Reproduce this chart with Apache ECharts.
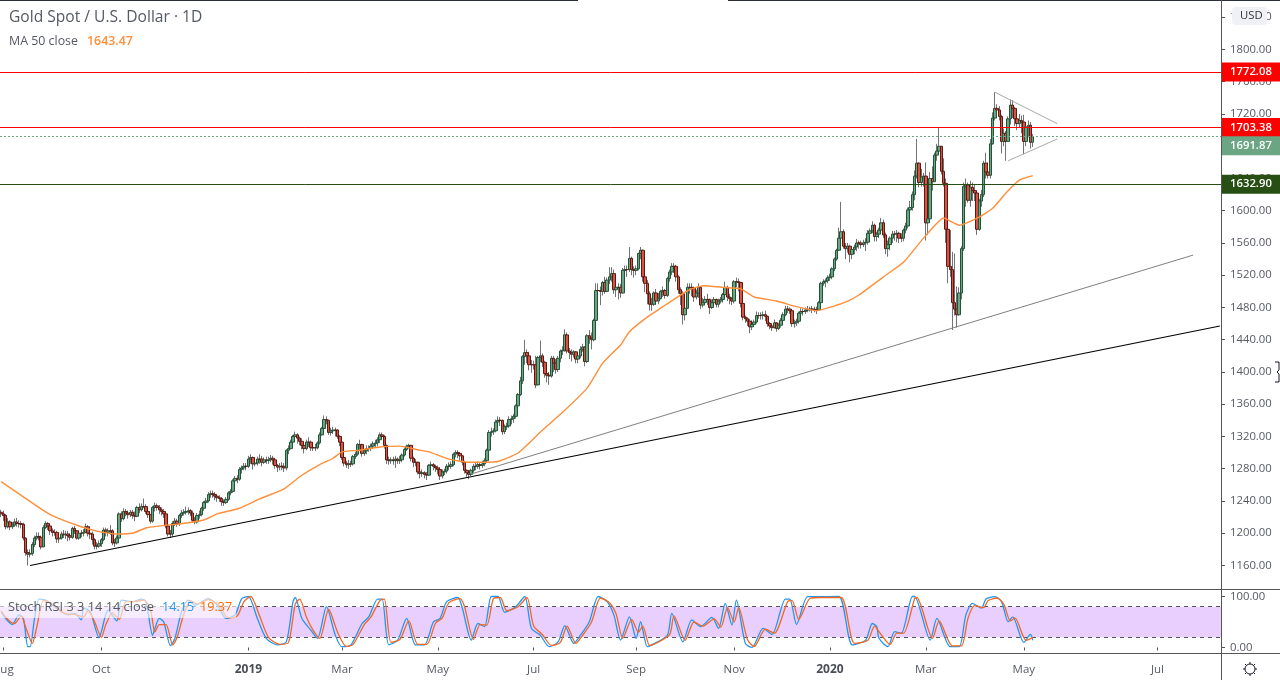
<!DOCTYPE html>
<html>
<head>
<meta charset="utf-8">
<title>Gold Spot / U.S. Dollar</title>
<script src="https://cdn.jsdelivr.net/npm/echarts@6/dist/echarts.min.js"></script>
<style>
html,body{margin:0;padding:0;background:#fff;}
#main{width:1280px;height:680px;}
</style>
</head>
<body>
<div id="main"></div>
<script>
// ten bars per row
var opens = [
1226,1224,1222,1208,1214,1208,1210,1214,1212,1212,
1211,1194,1176,1174,1175,1186,1194,1196,1195,1183,
1207,1212,1209,1203,1201,1201,1193,1194,1199,1198,
1199,1197,1195,1206,1203,1194,1200,1200,1201,1208,
1200,1199,1192,1184,1184,1187,1192,1204,1201,1203,
1203,1188,1188,1194,1224,1218,1227,1225,1223,1226,
1222,1221,1232,1229,1233,1233,1227,1223,1215,1232,
1234,1232,1229,1227,1224,1209,1199,1199,1212,1215,
1212,1222,1225,1226,1227,1228,1225,1216,1214,1222,
1223,1231,1238,1240,1248,1249,1248,1246,1244,1243,
1239,1238,1242,1250,1252,1265,1268,1267,1279,1281,
1283,1283,1292,1294,1286,1287,1292,1292,1288,1291,
1290,1291,1293,1291,1284,1282,1283,1283,1281,1303,
1305,1313,1320,1322,1318,1314,1309,1305,1313,1313,
1306,1306,1306,1312,1322,1330,1341,1340,1325,1327,
1328,1328,1320,1313,1294,1287,1285,1286,1286,1295,
1298,1310,1310,1299,1302,1305,1305,1308,1311,1312,
1316,1322,1320,1309,1291,1290,1291,1290,1292,1290,
1291,1297,1304,1308,1309,1293,1288,1288,1276,1274,
1275,1273,1272,1284,1285,1283,1281,1279,1271,1276,
1277,1283,1283,1285,1298,1300,1299,1296,1288,1278,
1275,1273,1278,1283,1283,1285,1284,1286,1290,1303,
1325,1326,1327,1338,1340,1340,1326,1332,1333,1341,
1342,1345,1358,1372,1389,1419,1424,1420,1409,1409,
1409,1384,1418,1420,1412,1398,1396,1395,1417,1411,
1403,1417,1426,1427,1446,1426,1424,1422,1425,1416,
1420,1428,1431,1413,1445,1442,1440,1464,1501,1501,
1500,1511,1500,1514,1518,1522,1502,1505,1505,1498,
1526,1527,1527,1541,1527,1526,1528,1547,1551,1518,
1510,1497,1484,1484,1498,1488,1491,1500,1501,1495,
1516,1524,1531,1531,1518,1502,1497,1471,1479,1505,
1505,1504,1493,1498,1505,1483,1486,1490,1490,1480,
1486,1490,1484,1488,1490,1496,1505,1493,1491,1488,
1512,1512,1511,1485,1468,1466,1463,1456,1459,1462,
1470,1470,1470,1471,1469,1460,1457,1455,1461,1454,
1458,1464,1471,1478,1478,1476,1460,1461,1463,1473,
1475,1475,1477,1477,1478,1478,1477,1477,1486,1510,
1512,1513,1517,1518,1528,1540,1551,1566,1574,1556,
1553,1556,1546,1552,1555,1560,1560,1558,1560,1561,
1572,1575,1582,1568,1571,1576,1585,1570,1553,1558,
1566,1571,1571,1572,1566,1566,1576,1581,1601,1604,
1620,1643,1659,1635,1642,1643,1585,1590,1640,1636,
1669,1674,1680,1649,1634,1577,1531,1527,1486,1478,
1471,1498,1553,1630,1632,1613,1629,1625,1622,1577,
1612,1620,1659,1648,1644,1683,1715,1727,1725,1717,
1686,1696,1686,1714,1731,1727,1714,1708,1712,1710,
1686,1704,1706,1685];
var closes = [
1224,1222,1208,1214,1208,1210,1214,1212,1212,1211,
1194,1176,1174,1175,1186,1194,1196,1195,1183,1207,
1212,1209,1203,1201,1201,1193,1194,1199,1198,1199,
1197,1195,1206,1203,1194,1200,1200,1201,1208,1200,
1199,1192,1184,1184,1187,1192,1204,1201,1203,1203,
1188,1188,1194,1224,1218,1227,1225,1223,1226,1222,
1221,1232,1229,1233,1233,1227,1223,1215,1232,1234,
1232,1229,1227,1224,1209,1199,1199,1212,1215,1212,
1222,1225,1226,1227,1228,1225,1216,1214,1222,1223,
1231,1238,1240,1248,1249,1248,1246,1244,1243,1239,
1238,1242,1250,1252,1265,1268,1267,1279,1281,1283,
1283,1292,1294,1286,1287,1292,1292,1288,1291,1290,
1291,1293,1291,1284,1282,1283,1283,1281,1303,1305,
1313,1320,1322,1318,1314,1309,1305,1313,1313,1306,
1306,1306,1312,1322,1330,1341,1340,1325,1327,1328,
1328,1320,1313,1294,1287,1285,1286,1286,1295,1298,
1310,1310,1299,1302,1305,1305,1308,1311,1312,1316,
1322,1320,1309,1291,1290,1291,1290,1292,1290,1291,
1297,1304,1308,1309,1293,1288,1288,1276,1274,1275,
1273,1272,1284,1285,1283,1281,1279,1271,1276,1277,
1283,1283,1285,1298,1300,1299,1296,1288,1278,1275,
1273,1278,1283,1283,1285,1284,1286,1290,1303,1325,
1326,1327,1338,1340,1340,1326,1332,1333,1341,1342,
1345,1358,1372,1389,1419,1424,1420,1409,1409,1409,
1384,1418,1420,1412,1398,1396,1395,1417,1411,1403,
1417,1426,1427,1446,1426,1424,1422,1425,1416,1420,
1428,1431,1413,1445,1442,1440,1464,1501,1501,1500,
1511,1500,1514,1518,1522,1502,1505,1505,1498,1526,
1527,1527,1541,1527,1526,1528,1547,1551,1518,1510,
1497,1484,1484,1498,1488,1491,1500,1501,1495,1516,
1524,1531,1531,1518,1502,1497,1471,1479,1505,1505,
1504,1493,1498,1505,1483,1486,1490,1490,1480,1486,
1490,1484,1488,1490,1496,1505,1493,1491,1488,1512,
1512,1511,1485,1468,1466,1463,1456,1459,1462,1470,
1470,1470,1471,1469,1460,1457,1455,1461,1454,1458,
1464,1471,1478,1478,1476,1460,1461,1463,1473,1475,
1475,1477,1477,1478,1478,1477,1477,1486,1510,1512,
1513,1517,1518,1528,1540,1551,1566,1574,1556,1553,
1556,1546,1552,1555,1560,1560,1558,1560,1561,1572,
1575,1582,1568,1571,1576,1585,1570,1553,1558,1566,
1571,1571,1572,1566,1566,1576,1581,1601,1604,1620,
1643,1659,1635,1642,1643,1585,1590,1640,1636,1669,
1674,1680,1649,1634,1577,1531,1527,1486,1478,1471,
1498,1553,1630,1632,1613,1629,1625,1622,1577,1612,
1620,1659,1648,1644,1683,1715,1727,1725,1717,1686,
1696,1686,1714,1731,1727,1714,1708,1712,1710,1686,
1704,1706,1685,1691.87];
var lows = [
1220,1215,1205,1206,1204,1205,1208,1208,1207,1206,
1191,1172,1160,1170,1172,1183,1191,1191,1180,1183,
1205,1204,1198,1196,1197,1188,1188,1192,1194,1193,
1190,1191,1193,1199,1192,1192,1195,1196,1200,1196,
1193,1186,1180,1180,1182,1183,1190,1196,1196,1198,
1185,1183,1186,1192,1214,1216,1221,1218,1220,1218,
1215,1220,1225,1227,1231,1224,1219,1212,1213,1227,
1228,1224,1222,1219,1206,1196,1194,1196,1209,1208,
1209,1219,1222,1223,1223,1221,1213,1211,1212,1218,
1221,1228,1235,1238,1244,1244,1241,1239,1239,1234,
1234,1236,1240,1247,1250,1262,1262,1265,1274,1278,
1278,1281,1286,1279,1283,1284,1286,1283,1286,1286,
1286,1288,1285,1280,1276,1278,1278,1276,1278,1298,
1304,1311,1316,1311,1309,1304,1299,1303,1307,1302,
1302,1302,1304,1310,1321,1329,1335,1322,1321,1323,
1320,1317,1308,1291,1283,1281,1280,1282,1284,1292,
1296,1303,1295,1296,1298,1301,1302,1305,1307,1308,
1312,1316,1305,1286,1285,1286,1285,1281,1286,1286,
1288,1295,1302,1305,1289,1282,1283,1273,1268,1270,
1268,1266,1271,1280,1278,1276,1273,1266,1268,1272,
1274,1278,1280,1283,1294,1293,1290,1284,1274,1270,
1267,1271,1275,1278,1280,1279,1281,1283,1287,1302,
1320,1322,1325,1333,1333,1322,1323,1328,1331,1335,
1337,1342,1355,1370,1385,1409,1411,1402,1399,1403,
1380,1384,1412,1406,1393,1387,1384,1393,1400,1398,
1400,1412,1421,1425,1423,1416,1413,1418,1411,1411,
1417,1425,1407,1411,1435,1428,1438,1463,1490,1483,
1495,1497,1499,1509,1512,1497,1493,1490,1492,1497,
1520,1518,1524,1520,1517,1520,1526,1540,1512,1499,
1484,1476,1476,1482,1483,1484,1490,1493,1491,1493,
1512,1520,1523,1512,1497,1483,1459,1464,1478,1497,
1494,1487,1490,1492,1478,1480,1483,1483,1472,1478,
1483,1480,1480,1485,1486,1493,1488,1484,1483,1485,
1505,1500,1480,1464,1461,1457,1448,1452,1456,1460,
1466,1465,1465,1463,1456,1453,1451,1454,1450,1452,
1455,1462,1469,1473,1472,1456,1455,1457,1460,1470,
1470,1472,1474,1475,1473,1474,1472,1476,1484,1507,
1505,1510,1513,1515,1525,1538,1550,1560,1553,1540,
1548,1536,1540,1546,1550,1553,1553,1555,1550,1558,
1565,1572,1562,1562,1566,1572,1566,1546,1543,1551,
1560,1563,1561,1560,1561,1562,1572,1578,1595,1600,
1613,1640,1629,1630,1630,1563,1570,1585,1625,1636,
1662,1670,1645,1630,1560,1510,1518,1452,1470,1455,
1470,1490,1550,1605,1610,1605,1612,1612,1570,1575,
1605,1617,1640,1640,1640,1682,1712,1715,1712,1671,
1680,1662,1688,1707,1715,1705,1700,1703,1696,1670,
1680,1691,1677,1679];
var highs = [
1229,1228,1224,1219,1216,1214,1218,1219,1216,1215,
1213,1195,1180,1180,1189,1197,1201,1201,1197,1210,
1215,1214,1211,1206,1205,1203,1197,1202,1204,1203,
1203,1200,1208,1209,1204,1203,1204,1205,1212,1210,
1204,1202,1194,1189,1191,1194,1207,1207,1206,1210,
1205,1193,1197,1226,1227,1231,1230,1228,1229,1229,
1227,1234,1237,1237,1243,1236,1230,1224,1234,1238,
1237,1235,1232,1230,1226,1212,1204,1215,1219,1218,
1224,1229,1230,1233,1232,1230,1228,1220,1225,1228,
1233,1240,1244,1251,1253,1253,1251,1248,1247,1245,
1242,1245,1252,1255,1267,1271,1272,1282,1284,1287,
1287,1296,1298,1295,1292,1295,1298,1296,1294,1295,
1295,1297,1296,1292,1286,1287,1288,1287,1304,1309,
1316,1322,1326,1324,1320,1318,1310,1316,1319,1315,
1311,1311,1314,1325,1332,1346,1345,1341,1331,1332,
1331,1329,1322,1314,1297,1290,1291,1290,1297,1301,
1312,1316,1311,1304,1309,1309,1311,1314,1316,1319,
1325,1325,1322,1310,1295,1294,1295,1296,1294,1296,
1299,1306,1310,1311,1309,1295,1292,1289,1279,1279,
1277,1276,1286,1289,1287,1285,1284,1282,1279,1280,
1286,1288,1289,1300,1303,1303,1300,1297,1290,1279,
1277,1280,1286,1288,1289,1288,1290,1293,1305,1328,
1331,1330,1341,1345,1344,1341,1335,1337,1345,1346,
1348,1360,1374,1394,1421,1440,1428,1425,1415,1414,
1420,1420,1439,1423,1414,1402,1400,1420,1420,1416,
1420,1428,1432,1453,1449,1430,1428,1427,1426,1423,
1432,1435,1432,1447,1452,1449,1466,1510,1510,1506,
1513,1518,1517,1530,1530,1527,1510,1510,1509,1529,
1532,1532,1555,1543,1531,1532,1548,1555,1552,1522,
1514,1500,1492,1500,1503,1498,1502,1506,1503,1518,
1527,1535,1535,1533,1520,1505,1500,1490,1510,1510,
1510,1506,1502,1510,1506,1492,1494,1497,1491,1490,
1493,1491,1491,1493,1498,1512,1507,1497,1493,1514,
1517,1516,1512,1487,1470,1468,1466,1464,1465,1475,
1474,1474,1475,1476,1470,1462,1459,1465,1462,1461,
1467,1474,1482,1482,1480,1478,1465,1466,1475,1479,
1479,1480,1482,1481,1482,1481,1481,1488,1512,1515,
1516,1520,1522,1530,1542,1553,1579,1611,1577,1560,
1560,1558,1556,1558,1565,1563,1563,1564,1566,1576,
1578,1587,1584,1574,1579,1591,1589,1573,1563,1568,
1575,1575,1576,1574,1572,1578,1585,1604,1612,1624,
1650,1689,1660,1652,1647,1660,1602,1648,1655,1672,
1683,1703,1680,1665,1640,1596,1576,1549,1547,1506,
1505,1556,1635,1640,1635,1637,1635,1633,1625,1615,
1626,1662,1672,1660,1689,1722,1747,1732,1730,1719,
1702,1699,1717,1738,1737,1729,1721,1720,1718,1719,
1709,1712,1710,1695];

var maIndex = [0,9,18,24,36,44,52,59,65,74,80,91,97,107,116,127,134,143,149,153,161,170,179,188,192,201,210,216,223,232,243,252,263,270,278,282,290,297,303,309,315,324,332,338,348,357,366,373,380,385,396,405,414,423,430,439,445,451,457,463];
var maValues = [1264,1247,1230,1220.5,1208,1202,1199,1200,1206.5,1210,1211.5,1216.4,1224,1231,1242.5,1255,1270,1285,1293,1301,1303,1307,1308,1303,1301,1292,1288,1288,1289,1299.5,1328,1350,1380,1411,1433.5,1450,1468,1481,1492,1502,1507,1505,1503,1493,1488,1481,1476,1481,1488,1495.5,1518,1536,1566,1591,1582,1592,1603,1622,1638,1643.47];

var stochKIndex = [0,2,5,8,10,12,13,15,17,20,23,27,30,33,36,37,40,44,45,48,52,54,59,63,65,68,69,71,73,76,78,81,84,87,93,97,101,105,108,111,115,119,124,128,131,132,135,139,142,146,150,153,157,162,165,169,171,174,178,182,186,190,194,197,200,205,207,211,214,217,220,223,226,231,235,238,242,246,250,253,257,260,264,268,272,275,278,282,285,287,290,292,299,301,306,310,314,319,322,325,328,330,334,337,342,346,352,354,357,362,367,376,382,388,391,393,394,398,401,404,409,410,417,420,426,430,433,436,440,442,446,449,452,454,459,462,463];
var stochK = [70,57,45,64,57,1.5,1.5,57,95,93,83,70,64,67,54,77,70,19,31,73,52,93,90,95,90,24,37,57,50,3.5,18,70,93,83,96,83,57,64,96,100,57,18,5,11,90,98,57,34,18,80,24,1.5,5,47,60,95,95,5,14.5,57,5,5,50,57,90,98,77,14.5,47,41,100,100,69,80,100,37.5,24,1.5,11,43,8,24,50.5,100,90,64,14.5,60,18,50.5,1.5,5,24,67,11,54,41,59,37.5,86.5,44,93,8,0.2,37.5,25.7,95,95,45,99.6,99.6,100,5,14.5,47,41,18,1.5,31,27.7,100,100,14.5,57,1.5,1.5,64,86.5,77,95,99.6,90,50.5,60,10,25.7,14.15];
var stochDIndex = [0,3,6,9,11,14,16,19,22,25,29,33,37,39,42,45,47,50,53,56,60,64,67,69,71,74,77,79,82,85,88,93,98,102,106,109,112,116,120,125,129,132,134,137,140,143,147,151,155,158,163,166,170,172,175,179,183,187,191,195,198,201,206,208,212,215,218,221,224,227,232,236,239,243,247,251,254,258,261,265,269,273,276,279,283,286,288,291,293,300,302,307,311,315,320,323,326,329,331,335,338,343,347,353,355,358,363,368,377,383,389,392,395,399,402,405,410,411,418,421,427,431,434,437,441,443,447,450,453,455,460,463];
var stochD = [72,55,47,62,40,8,40,92,88,78,66,65,60,72,50,20,45,68,55,90,90,93,75,30,45,45,5,20,65,92,85,94,82,58,62,90,100,62,20,6,10,85,95,60,34,18,75,30,2,6,45,60,92,95,10,16,52,6,6,48,58,88,96,80,16,45,44,96,98,72,80,98,42,25,4,10,42,8,24,50,97,88,66,18,55,30,42,4,6,25,62,14,50,42,56,40,78,50,78,15,2,36,28,90,92,55,96,98,98,8,14,42,25,6,28,28,96,98,18,52,3,3,58,82,78,92,97,85,52,58,14,19.37];

var trendLower = [[13,1160],[547,1457]];
var trendUpper = [[211,1273.5],[535,1545]];
var wedgeTop = [[446,1747],[474,1708]];
var wedgeBottom = [[452,1662],[474,1689]];

var priceTicks = [1160,1200,1240,1280,1320,1360,1400,1440,1480,1520,1560,1600,1640,1680,1720,1760,1800,1840];
var stochTicks = [0,100];
var timeTickIndex = [1,45,111,153,196,239,285,329,372,415,459,519];
var timeTickNames = ['Aug','Oct','2019','Mar','May','Jul','Sep','Nov','2020','Mar','May','Jul'];
var BAR_SLOTS = 548;

var categories = [];
for (var i = 0; i < BAR_SLOTS; i++) {
	var pos = timeTickIndex.indexOf(i);
	categories.push(pos >= 0 ? timeTickNames[pos] : '');
}

// wicks and bodies are separate series because the wicks are grey
var wickData = [], bodyData = [];
for (var j = 0; j < closes.length; j++) {
	wickData.push([opens[j], closes[j], lows[j], highs[j]]);
	bodyData.push([opens[j], closes[j], Math.min(opens[j], closes[j]), Math.max(opens[j], closes[j])]);
}

function zipPoints(idx, vals) {
	return idx.map(function (v, k) { return [v, vals[k]]; });
}

function isTick(index, value) {
	return value !== '';
}

var FONT = '"Open Sans", sans-serif';
var TEXT = '#555962';

function priceTag(value, bg, dy, lineStyle) {
	return {
		yAxis: value,
		lineStyle: lineStyle,
		label: {
			show: true,
			position: 'end',
			distance: 0,
			offset: [0, dy],
			formatter: value.toFixed(2),
			color: '#fff',
			fontFamily: FONT,
			fontSize: 11.3,
			fontWeight: 600,
			backgroundColor: bg,
			width: 50,
			height: 16,
			lineHeight: 16,
			padding: [3, 0, 0, 9],
			align: 'left'
		}
	};
}

function trendSeries(points, color, width) {
	return {
		type: 'line', xAxisIndex: 0, yAxisIndex: 0, data: points, symbol: 'none', silent: true, z: 4,
		lineStyle: {color: color, width: width}
	};
}

function hairLine(x1, y1, x2, y2, color) {
	return {type: 'line', z: 100, silent: true, shape: {x1: x1, y1: y1, x2: x2, y2: y2}, style: {stroke: color, lineWidth: 1}};
}

function label(x, y, text, color, size, weight) {
	return {type: 'text', z: 102, silent: true, x: x, y: y, style: {text: text, fill: color, font: (weight || 'normal') + ' ' + size + 'px ' + FONT, verticalAlign: 'middle'}};
}

var sunRays = [];
[[0,-7,0,-5],[0,5,0,7],[-7,0,-5,0],[5,0,7,0],[-5,-5,-3.6,-3.6],[5,5,3.6,3.6],[-5,5,-3.6,3.6],[5,-5,3.6,-3.6]].forEach(function (r) {
	sunRays.push(hairLine(1250 + r[0], 669 + r[1], 1250 + r[2], 669 + r[3], '#131722'));
});

var option = {
	animation: false,
	backgroundColor: '#ffffff',
	textStyle: {fontFamily: FONT},
	grid: [
		{left: 0, top: 0, width: 1221, height: 589.5, outerBoundsMode: 'none'},
		{left: 0, top: 589.5, width: 1221, height: 64, outerBoundsMode: 'none'}
	],
	xAxis: [
		{type: 'category', gridIndex: 0, data: categories, show: false, boundaryGap: true},
		{
			type: 'category', gridIndex: 1, data: categories, boundaryGap: true,
			axisLine: {show: false},
			axisTick: {show: true, interval: isTick, alignWithLabel: true, length: 3, lineStyle: {color: '#555'}},
			axisLabel: {
				interval: isTick, margin: 10, color: TEXT, fontSize: 11.5, fontFamily: FONT,
				formatter: function (v) { return /^20/.test(v) ? '{y|' + v + '}' : v; },
				rich: {y: {fontWeight: 'bold', fontSize: 12, color: '#4a4e57', fontFamily: FONT}}
			},
			splitLine: {show: false}
		}
	],
	yAxis: [
		{
			type: 'value', gridIndex: 0, position: 'right', min: 1130.2, max: 1861.4, scale: true,
			axisLine: {show: true, lineStyle: {color: '#555'}},
			axisTick: {show: true, length: 4, customValues: priceTicks, lineStyle: {color: '#555'}},
			axisLabel: {margin: 9, padding: [4, 0, 0, 0], color: TEXT, fontSize: 11.3, fontFamily: FONT, customValues: priceTicks, formatter: function (v) { return v.toFixed(2); }},
			splitLine: {show: false}
		},
		{
			type: 'value', gridIndex: 1, position: 'right', min: -11.8, max: 113.7,
			axisLine: {show: true, lineStyle: {color: '#555'}},
			axisTick: {show: true, length: 4, customValues: stochTicks, lineStyle: {color: '#555'}},
			axisLabel: {margin: 9, padding: [4, 0, 0, 0], color: TEXT, fontSize: 11.3, fontFamily: FONT, customValues: stochTicks, formatter: function (v) { return v.toFixed(2); }},
			splitLine: {show: false}
		}
	],
	series: [
		{
			type: 'candlestick', xAxisIndex: 0, yAxisIndex: 0, data: wickData, barWidth: 1, silent: true, z: 2,
			itemStyle: {color: '#737375', color0: '#737375', borderColor: '#737375', borderColor0: '#737375', borderColorDoji: '#737375', borderWidth: 1}
		},
		{
			type: 'candlestick', xAxisIndex: 0, yAxisIndex: 0, data: bodyData, barWidth: 3, silent: true, z: 3,
			itemStyle: {color: '#6ba583', color0: '#d75442', borderColor: '#225437', borderColor0: '#5b1a13', borderColorDoji: '#5b1a13', borderWidth: 1},
			markLine: {
				silent: true, symbol: 'none', animation: false, z: 6,
				data: [
					priceTag(1772.08, '#ff0000', 0, {color: '#ff0000', width: 1, type: 'solid'}),
					priceTag(1703.38, '#ff0000', 0, {color: '#ff0000', width: 1, type: 'solid'}),
					priceTag(1691.87, '#6ba583', 9, {color: '#6ba583', width: 1, type: [2, 2]}),
					priceTag(1632.90, '#274e13', 0, {color: '#274e13', width: 1, type: 'solid'})
				]
			}
		},
		{
			type: 'line', xAxisIndex: 0, yAxisIndex: 0, data: zipPoints(maIndex, maValues), symbol: 'none', silent: true, z: 4,
			smooth: 0.15,
			lineStyle: {color: '#ff8f3a', width: 1.4}
		},
		trendSeries(trendLower, '#000000', 1.2),
		trendSeries(trendUpper, '#808080', 1),
		trendSeries(wedgeTop, '#a9a9a9', 1),
		trendSeries(wedgeBottom, '#a9a9a9', 1),
		{
			type: 'line', xAxisIndex: 1, yAxisIndex: 1, data: zipPoints(stochKIndex, stochK), symbol: 'none', silent: true, z: 3,
			smooth: 0.25,
			lineStyle: {color: '#2196f3', width: 1.3},
			markArea: {
				silent: true, z: 1,
				itemStyle: {color: '#e9cffd'},
				data: [[{yAxis: 20}, {yAxis: 80}]]
			},
			markLine: {
				silent: true, symbol: 'none', z: 2,
				label: {show: false},
				lineStyle: {color: '#555', width: 1, type: [4, 4]},
				data: [{yAxis: 80}, {yAxis: 20}]
			}
		},
		{
			type: 'line', xAxisIndex: 1, yAxisIndex: 1, data: zipPoints(stochDIndex, stochD), symbol: 'none', silent: true, z: 4,
			smooth: 0.25,
			lineStyle: {color: '#f4671f', width: 1.3}
		}
	],
	graphic: [
		hairLine(0, 0.5, 578, 0.5, '#2a2e39'),
		hairLine(728, 0.5, 1280, 0.5, '#2a2e39'),
		hairLine(0, 589.5, 1280, 589.5, '#555'),
		hairLine(0, 653.5, 1280, 653.5, '#555'),
		hairLine(1221.5, 0, 1221.5, 680, '#555'),
		label(9, 18, 'Gold Spot / U.S. Dollar · 1D', TEXT, 15.6),
		label(9, 41, 'MA 50 close', TEXT, 12.4),
		label(87, 41, '1643.47', '#ff8f3a', 12.4, '600'),
		{type: 'rect', z: 101, silent: true, shape: {x: 1232, y: 7, width: 35, height: 18, r: 4}, style: {fill: '#f0f0f7'}},
		label(1240, 16, 'USD', '#333', 11.3),
		{type: 'rect', z: 100, silent: true, shape: {x: 0, y: 597, width: 236, height: 21}, style: {fill: 'rgba(255,255,255,0.6)'}},
		label(8, 607, 'Stoch RSI 3 3 14 14 close', TEXT, 12.8),
		label(162, 607, '14.15', '#2196f3', 12.6),
		label(200, 607, '19.37', '#ff6d00', 12.6),
		{type: 'circle', z: 100, silent: true, shape: {cx: 1250, cy: 669, r: 5}, style: {fill: '#fff', stroke: '#131722', lineWidth: 1}}
	].concat(sunRays).concat([
		{type: 'polyline', z: 100, silent: true, shape: {points: [[1275,362],[1279,362],[1279,370],[1277,372],[1279,374],[1279,382],[1275,382]]}, style: {stroke: '#131722', fill: 'none', lineWidth: 1}}
	])
};

var myChart = echarts.init(document.getElementById('main'));
myChart.setOption(option);
</script>
</body>
</html>
